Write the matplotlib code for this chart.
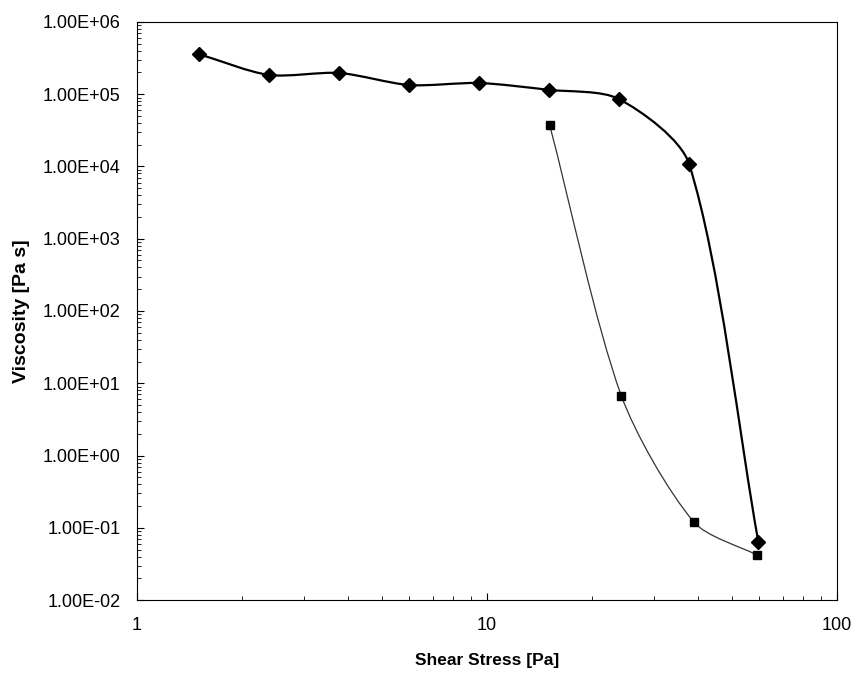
import matplotlib
matplotlib.use('Agg')
import matplotlib.pyplot as plt
import numpy as np
from matplotlib.path import Path
from matplotlib.patches import PathPatch
from matplotlib.ticker import LogLocator, FixedFormatter, FixedLocator

plt.rcParams['font.family'] = ['Liberation Sans', 'DejaVu Sans']

# Daten
stress1 = [1.5, 2.38, 3.78, 6.0, 9.5, 15.0, 23.8, 37.8, 59.6]
visc1 = [3.6e5, 1.85e5, 1.97e5, 1.34e5, 1.43e5, 1.15e5, 8.6e4, 1.08e4, 6.4e-2]

stress2 = [15.1, 24.2, 39.0, 59.0]
visc2 = [3.75e4, 6.7, 1.2e-1, 4.2e-2]

ylabels = ['1.00E-02', '1.00E-01', '1.00E+00', '1.00E+01', '1.00E+02',
           '1.00E+03', '1.00E+04', '1.00E+05', '1.00E+06']
xlabels = ['1', '10', '100']

# Pixel pro Dekade (fuer Glaettung im Darstellungsraum)
SX, SY = 350.0, 72.25


def smooth_path(x, y, k=0.27):
    # Glaettung wie Excel: Bezier, Tangente normiert, Armlaenge ~ Segmentlaenge
    p = np.column_stack([np.log10(x) * SX, np.log10(y) * SY])
    n = len(p)
    tang = []
    for i in range(n):
        d = p[min(i + 1, n - 1)] - p[max(i - 1, 0)]
        tang.append(d / np.linalg.norm(d))
    verts = [p[0]]
    codes = [Path.MOVETO]
    for i in range(n - 1):
        L = np.linalg.norm(p[i + 1] - p[i])
        c1 = p[i] + tang[i] * k * L
        c2 = p[i + 1] - tang[i + 1] * k * L
        verts += [c1, c2, p[i + 1]]
        codes += [Path.CURVE4] * 3
    verts = np.array(verts)
    verts = np.column_stack([10 ** (verts[:, 0] / SX), 10 ** (verts[:, 1] / SY)])
    return Path(verts, codes)


fig, ax = plt.subplots(figsize=(8.59, 6.78), dpi=100)
fig.subplots_adjust(left=0.1595, right=0.9744, top=0.9676, bottom=0.115)

ax.set_xscale('log')
ax.set_yscale('log')
ax.set_xlim(1, 100)
ax.set_ylim(1e-2, 1e6)

ax.add_patch(PathPatch(smooth_path(stress2, visc2), fill=False, lw=0.9, ec='#333333'))
ax.add_patch(PathPatch(smooth_path(stress1, visc1), fill=False, lw=1.6, ec='black'))
ax.plot(stress1, visc1, 'D', color='black', ms=7.5, ls='none')
ax.plot(stress2, visc2, 's', color='black', ms=6, ls='none')

ax.yaxis.set_major_locator(FixedLocator([10.0 ** k for k in range(-2, 7)]))
ax.yaxis.set_major_formatter(FixedFormatter(ylabels))
ax.yaxis.set_minor_locator(LogLocator(base=10, subs=np.arange(2, 10), numticks=20))
ax.xaxis.set_major_locator(FixedLocator([1, 10, 100]))
ax.xaxis.set_major_formatter(FixedFormatter(xlabels))
ax.xaxis.set_minor_locator(LogLocator(base=10, subs=np.arange(2, 10), numticks=20))
ax.yaxis.set_minor_formatter(plt.NullFormatter())
ax.xaxis.set_minor_formatter(plt.NullFormatter())

ax.tick_params(which='both', direction='in', top=False, right=False, labelsize=13)
ax.tick_params(which='major', length=5, pad=12)
ax.tick_params(which='minor', length=3)

ax.set_xlabel('Shear Stress [Pa]', fontsize=12.5, fontweight='bold', labelpad=14)
ax.set_ylabel('Viscosity [Pa s]', fontsize=14, fontweight='bold', labelpad=9)

fig.savefig('out.png', dpi=100)
